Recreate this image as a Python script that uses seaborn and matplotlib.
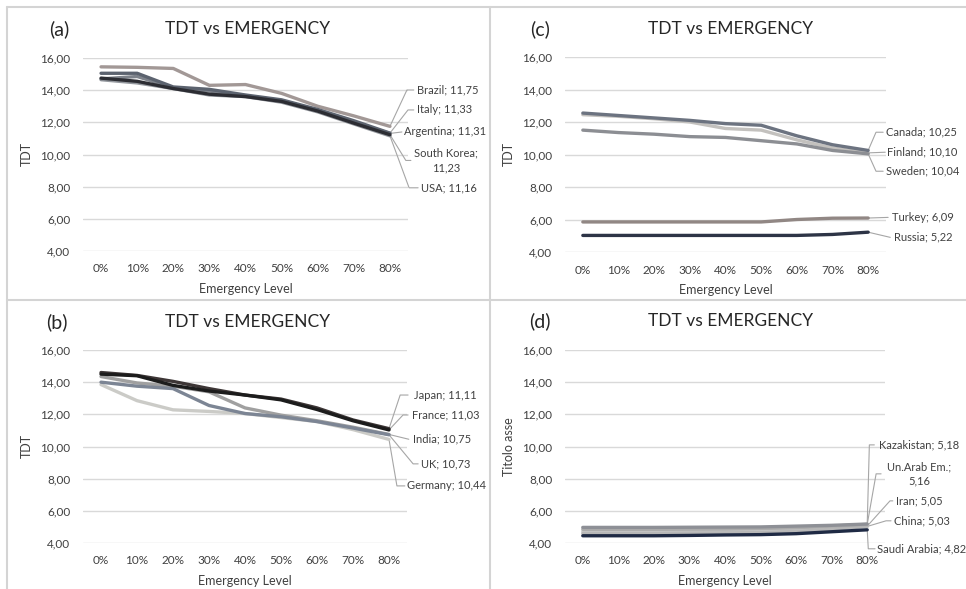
import numpy as np
import pandas as pd
import matplotlib
matplotlib.use("Agg")
import matplotlib.pyplot as plt
from matplotlib.lines import Line2D
import seaborn as sns

# ---------------- data ----------------
levels = ["0%", "10%", "20%", "30%", "40%", "50%", "60%", "70%", "80%"]

# panel (a)
brazil      = [15.45, 15.42, 15.35, 14.30, 14.35, 13.80, 13.00, 12.40, 11.75]
italy       = [15.05, 15.05, 14.20, 14.05, 13.70, 13.40, 12.80, 12.10, 11.33]
argentina   = [14.70, 14.85, 14.15, 13.95, 13.65, 13.35, 12.75, 12.00, 11.31]
south_korea = [14.75, 14.55, 14.10, 13.75, 13.60, 13.30, 12.70, 11.95, 11.23]
usa         = [14.65, 14.45, 14.10, 13.70, 13.60, 13.25, 12.65, 11.90, 11.16]

# panel (b)
japan   = [14.60, 14.42, 14.05, 13.60, 13.20, 12.95, 12.40, 11.65, 11.11]
france  = [14.50, 14.40, 13.80, 13.45, 13.20, 12.90, 12.30, 11.60, 11.03]
india   = [14.35, 13.95, 13.75, 13.40, 12.40, 11.95, 11.60, 11.20, 10.75]
uk      = [14.00, 13.75, 13.60, 12.55, 12.05, 11.85, 11.55, 11.15, 10.73]
germany = [13.85, 12.85, 12.28, 12.18, 12.05, 11.80, 11.55, 11.05, 10.44]

# panel (c)
canada  = [12.55, 12.40, 12.25, 12.10, 11.90, 11.80, 11.15, 10.60, 10.25]
finland = [12.45, 12.35, 12.20, 12.00, 11.60, 11.50, 10.90, 10.40, 10.10]
sweden  = [11.50, 11.35, 11.25, 11.10, 11.05, 10.85, 10.65, 10.25, 10.04]
turkey  = [5.85, 5.85, 5.85, 5.85, 5.85, 5.85, 6.00, 6.08, 6.09]
russia  = [5.02, 5.02, 5.02, 5.02, 5.02, 5.02, 5.02, 5.08, 5.22]

# panel (d)
kazakistan   = [4.97, 4.97, 4.97, 4.98, 4.99, 5.00, 5.05, 5.10, 5.18]
uae          = [4.85, 4.85, 4.85, 4.86, 4.87, 4.90, 4.95, 5.05, 5.16]
iran         = [4.72, 4.72, 4.72, 4.73, 4.75, 4.77, 4.83, 4.93, 5.05]
china        = [4.60, 4.60, 4.60, 4.62, 4.63, 4.65, 4.72, 4.85, 5.03]
saudi_arabia = [4.45, 4.45, 4.45, 4.47, 4.50, 4.52, 4.58, 4.70, 4.82]

y_ticks = [4, 6, 8, 10, 12, 14, 16]

panels = [
    {"tag": "(a)", "ylabel": "TDT",
     "series": [("Brazil", brazil), ("Italy", italy), ("Argentina", argentina),
                ("South Korea", south_korea), ("USA", usa)]},
    {"tag": "(b)", "ylabel": "TDT",
     "series": [("Japan", japan), ("France", france), ("India", india),
                ("UK", uk), ("Germany", germany)]},
    {"tag": "(c)", "ylabel": "TDT",
     "series": [("Canada", canada), ("Finland", finland), ("Sweden", sweden),
                ("Turkey", turkey), ("Russia", russia)]},
    {"tag": "(d)", "ylabel": "Titolo asse",
     "series": [("Kazakistan", kazakistan), ("Un.Arab Em.", uae), ("Iran", iran),
                ("China", china), ("Saudi Arabia", saudi_arabia)]},
]

# ---------------- styles / layout ----------------
colors = {
    "Brazil": "#a29896", "Italy": "#5c636f", "Argentina": "#7e838b",
    "South Korea": "#2c2d33", "USA": "#94989e",
    "Japan": "#3d3636", "France": "#1c1c1c", "India": "#a0a0a0",
    "UK": "#7c8594", "Germany": "#cbcbc7",
    "Canada": "#6c7380", "Finland": "#c3c1be", "Sweden": "#8c8e93",
    "Turkey": "#918784", "Russia": "#2d3446",
    "Kazakistan": "#8e9096", "Un.Arab Em.": "#acacac", "Iran": "#cacaca",
    "China": "#b7b7b7", "Saudi Arabia": "#1f2a44",
}
draw_order = {
    "(a)": ["Brazil", "USA", "Argentina", "Italy", "South Korea"],
    "(b)": ["Germany", "India", "UK", "Japan", "France"],
    "(c)": ["Finland", "Sweden", "Canada", "Turkey", "Russia"],
    "(d)": ["Iran", "China", "Un.Arab Em.", "Kazakistan", "Saudi Arabia"],
}
# label layout: text x, text y, ha, elbow x (None = straight), line end x
label_layout = {
    "Brazil":       (8.75, 14.01, "left", 8.47, 8.66),
    "Italy":        (8.75, 12.77, "left", 8.50, 8.66),
    "Argentina":    (8.39, 11.40, "left", None, 8.33),
    "South Korea":  (9.55, 9.63, "center", 8.44, 8.58),
    "USA":          (8.86, 7.93, "left", 8.53, 8.78),
    "Japan":        (8.69, 13.20, "left", 8.31, 8.53),
    "France":       (8.64, 11.96, "left", 8.39, 8.53),
    "India":        (8.67, 10.45, "left", None, 8.55),
    "UK":           (8.89, 8.92, "left", 8.67, 8.81),
    "Germany":      (8.50, 7.55, "left", 8.22, 8.44),
    "Canada":       (8.50, 11.37, "left", 8.22, 8.42),
    "Finland":      (8.53, 10.14, "left", None, 8.48),
    "Sweden":       (8.50, 8.97, "left", 8.22, 8.42),
    "Turkey":       (8.67, 6.13, "left", None, 8.56),
    "Russia":       (8.73, 4.90, "left", None, 8.62),
    "Kazakistan":   (8.34, 10.10, "left", 8.06, 8.20),
    "Un.Arab Em.":  (9.46, 8.30, "center", 8.25, 8.39),
    "Iran":         (8.80, 6.62, "left", 8.64, 8.72),
    "China":        (8.75, 5.38, "left", 8.53, 8.67),
    "Saudi Arabia": (8.28, 3.64, "left", 8.03, 8.22),
}
two_line = {"South Korea", "Un.Arab Em."}

W, H = 966, 589
# axes rectangles in pixels: left, top, right, bottom
axes_px = {
    "(a)": (83, 58, 408, 251),
    "(b)": (83, 350, 407, 543),
    "(c)": (565, 57, 886, 252),
    "(d)": (565, 350, 885, 543),
}
title_px = {"(a)": (248, 29, 59), "(b)": (248, 322, 57),
            "(c)": (731, 29, 540), "(d)": (731, 321, 540)}
ylabel_x = {"(a)": 33, "(b)": 33, "(c)": 515, "(d)": 515}


def fmt(v):
    return f"{v:.2f}".replace(".", ",")


sns.set_style("white")
plt.rcParams["font.family"] = ["Lato", "DejaVu Sans"]

fig = plt.figure(figsize=(W / 100, H / 100), dpi=100)
fig.patch.set_facecolor("white")

text_color = "#404040"
grid_color = "#d9d9d9"

for p in panels:
    tag = p["tag"]
    l, t, r, b = axes_px[tag]
    ax = fig.add_axes([l / W, 1 - b / H, (r - l) / W, (b - t) / H])
    rows = []
    for name, vals in p["series"]:
        for i, v in enumerate(vals):
            rows.append({"country": name, "idx": i, "TDT": v})
    df = pd.DataFrame(rows)
    sns.lineplot(data=df, x="idx", y="TDT", hue="country",
                 hue_order=draw_order[tag], palette=colors,
                 linewidth=2.4, legend=False, ax=ax, zorder=3)
    ax.set_xlim(-0.5, len(levels) - 0.5)
    ax.set_ylim(4, 16)
    ax.set_yticks(y_ticks)
    ax.set_yticklabels([fmt(v) for v in y_ticks])
    ax.set_xticks(range(len(levels)))
    ax.set_xticklabels(levels)
    ax.tick_params(axis="both", length=0, labelsize=8.5, colors=text_color)
    ax.tick_params(axis="y", pad=9)
    ax.tick_params(axis="x", pad=9)
    for s in ax.spines.values():
        s.set_visible(False)
    ax.grid(axis="y", color=grid_color, linewidth=1.0, zorder=0)
    ax.grid(axis="x", visible=False)
    ax.set_xlabel("Emergency Level", fontsize=9, color=text_color, labelpad=6)
    ax.set_ylabel(p["ylabel"], fontsize=9, color=text_color)
    ax.yaxis.set_label_coords((ylabel_x[tag] - l) / (r - l), 0.5)

    # title and tag
    tx, ty, tagx = title_px[tag]
    fig.text(tx / W, 1 - ty / H, "TDT vs EMERGENCY", ha="center", va="center",
             fontsize=12.5, color="#262626")
    fig.text(tagx / W, 1 - ty / H, tag, ha="center", va="center",
             fontsize=14, color="#262626")

    # data labels with leader lines
    for name, vals in p["series"]:
        last = vals[-1]
        tx_, ty_, ha, ex, hend = label_layout[name]
        if ex is None:
            xs, ys = [len(levels) - 1, hend], [last, ty_]
        else:
            xs, ys = [len(levels) - 1, ex, hend], [last, ty_, ty_]
        ax.plot(xs, ys, color="#a6a6a6", linewidth=0.8, clip_on=False, zorder=2)
        sep = ";\n" if name in two_line else "; "
        lbl = f"{name}{sep}{fmt(last)}"
        ax.text(tx_, ty_, lbl, ha=ha, va="center", fontsize=8,
                color=text_color, clip_on=False, linespacing=1.35)

# panel borders
bc = "#d4d4d4"
for x0, y0, x1, y1 in [(7, 7, 7, H), (7, 7, W, 7), (490, 7, 490, H), (7, 300, W, 300)]:
    fig.add_artist(Line2D([x0 / W, x1 / W], [1 - y0 / H, 1 - y1 / H],
                          color=bc, linewidth=1.5, transform=fig.transFigure))

fig.savefig("out.png", dpi=100, facecolor="white")
